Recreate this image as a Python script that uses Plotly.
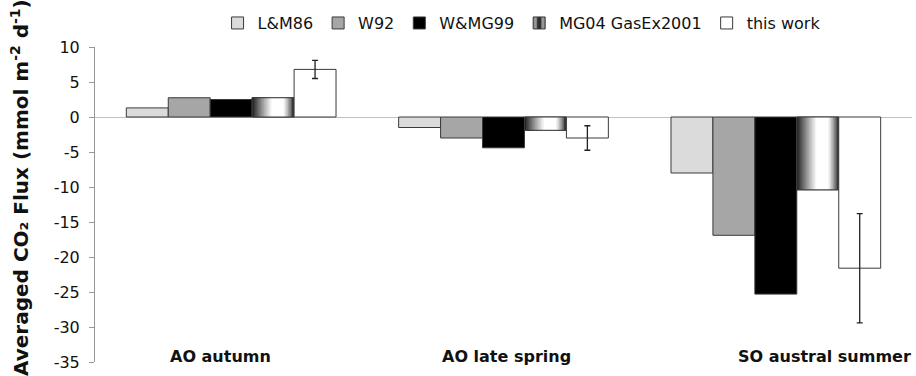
import plotly.graph_objects as go

# ---- data ----
categories = ["AO autumn", "AO late spring", "SO austral summer"]
series_names = ["L&M86", "W92", "W&MG99", "MG04 GasEx2001", "this work"]
lm86 = [1.3, -1.5, -8.0]
w92 = [2.75, -3.0, -16.9]
wmg99 = [2.5, -4.4, -25.3]
mg04 = [2.75, -1.9, -10.4]
this_work = [6.8, -3.0, -21.6]
this_work_err = [1.3, 1.75, 7.8]
y_ticks = [10, 5, 0, -5, -10, -15, -20, -25, -30, -35]
y_tick_text = ["10", "5", "0", "-5", "-10", "-15", "-20", "-25", "-30", "-35"]

# ---- styling ----
FONT = "DejaVu Sans"
EDGE = "#3a3a3a"
BAR_W = 0.154
START = -0.385
offsets = [START + i * BAR_W for i in range(5)]
label_shift = [-11, 3, 49]

fig = go.Figure()

# L&M86 (fine dotted light grey)
fig.add_trace(go.Bar(
    x=categories, y=lm86, name=series_names[0], width=BAR_W, offset=offsets[0],
    marker=dict(color="#e6e6e6", line=dict(color=EDGE, width=1),
                pattern=dict(shape=".", fgcolor="#b4b4b4", bgcolor="#e6e6e6",
                             size=2, solidity=0.5)),
    legendrank=1))
# W92
fig.add_trace(go.Bar(
    x=categories, y=w92, name=series_names[1], width=BAR_W, offset=offsets[1],
    marker=dict(color="#a6a6a6", line=dict(color=EDGE, width=1)), legendrank=2))
# W&MG99
fig.add_trace(go.Bar(
    x=categories, y=wmg99, name=series_names[2], width=BAR_W, offset=offsets[2],
    marker=dict(color="#000000", line=dict(color=EDGE, width=1)), legendrank=3))

# MG04 legend carrier (covered by gradient strips)
fig.add_trace(go.Bar(
    x=categories, y=mg04, name=series_names[3], width=BAR_W, offset=offsets[3],
    marker=dict(color="#303030", line=dict(color=EDGE, width=1),
                pattern=dict(shape="|", fgcolor="#ffffff", bgcolor="#303030",
                             size=12, solidity=0.45, fillmode="overlay")),
    legendrank=4))


def grad(t):
    if t < 0.47:
        b = 25 + 230 * (t / 0.47) ** 0.9
    elif t < 0.74:
        b = 255
    else:
        b = 255 - 215 * ((t - 0.74) / 0.26) ** 1.2
    b = int(max(0, min(255, b)))
    return f"rgb({b},{b},{b})"


N = 28
sw = BAR_W / N
for k in range(N):
    w = min(sw * 2.2, BAR_W - k * sw)
    fig.add_trace(go.Bar(
        x=categories, y=mg04, width=w, offset=offsets[3] + k * sw,
        marker=dict(color=grad((k + 0.5) / N), line=dict(width=0)),
        showlegend=False, hoverinfo="skip"))
# MG04 outline on top
fig.add_trace(go.Bar(
    x=categories, y=mg04, width=BAR_W, offset=offsets[3],
    marker=dict(color="rgba(0,0,0,0)", line=dict(color=EDGE, width=1)),
    showlegend=False, hoverinfo="skip"))

# this work
fig.add_trace(go.Bar(
    x=categories, y=this_work, name=series_names[4], width=BAR_W, offset=offsets[4],
    marker=dict(color="#ffffff", line=dict(color=EDGE, width=1)),
    error_y=dict(type="data", array=this_work_err, visible=True,
                 color="#222222", thickness=1.3, width=3),
    legendrank=5))

# category labels
for i, c in enumerate(categories):
    fig.add_annotation(x=c, y=-35, xref="x", yref="y", text=c, showarrow=False,
                       xanchor="center", yanchor="middle", yshift=6,
                       xshift=label_shift[i],
                       font=dict(family=FONT, size=16, color="#111", weight="bold"))

# y-axis title
fig.add_annotation(x=-0.092, y=0.555, xref="paper", yref="paper",
                   text="Averaged CO₂ Flux (mmol m<sup>-2</sup> d<sup>-1</sup>)",
                   textangle=-90, showarrow=False, xanchor="center", yanchor="middle",
                   font=dict(family=FONT, size=20, color="#111", weight="bold"))

fig.update_layout(
    width=916, height=376,
    margin=dict(l=95, r=4, t=47, b=14),
    paper_bgcolor="white", plot_bgcolor="white",
    barmode="overlay",
    showlegend=True,
    legend=dict(orientation="h", x=0.15, xanchor="left", y=1.076, yanchor="middle",
                font=dict(family=FONT, size=16, color="#111"),
                bgcolor="rgba(0,0,0,0)", traceorder="normal"),
    xaxis=dict(type="category", range=[-0.5, 2.5], showticklabels=False,
               showline=False, showgrid=False, zeroline=False, ticks=""),
    yaxis=dict(range=[-35, 10], tickvals=y_ticks, ticktext=y_tick_text,
               ticks="outside", ticklen=5,
               tickcolor="#999", showline=True, linecolor="#999", linewidth=1,
               showgrid=False, zeroline=True, zerolinecolor="#c0c0c0", zerolinewidth=1,
               ticklabelstandoff=6,
               tickfont=dict(family=FONT, size=16, color="#111")),
)

fig.write_html("out.html")
